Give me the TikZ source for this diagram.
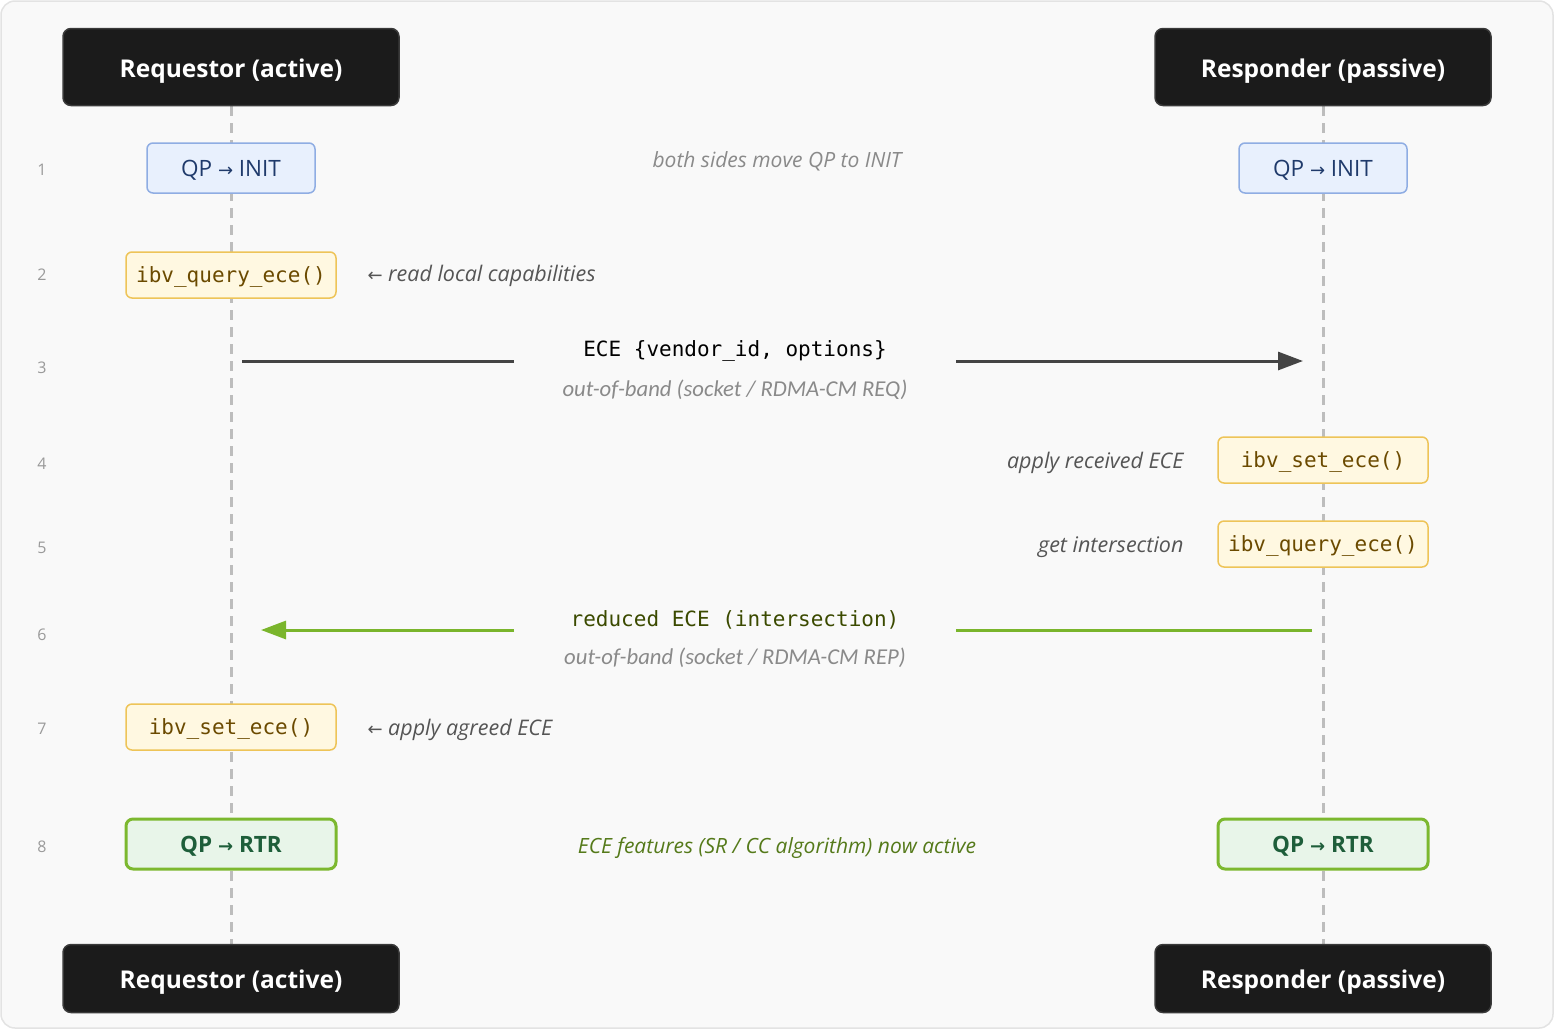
\documentclass[tikz,border=0pt]{standalone}
\usepackage{fontspec}
\setmainfont{Open Sans}
\setmonofont{DejaVu Sans Mono}
\newfontfamily\arrowfont{DejaVu Sans}
\newfontfamily\condfont{Carlito}
\usetikzlibrary{arrows.meta,backgrounds}
\definecolor{bg}{HTML}{F9F9F9}
\definecolor{frame}{HTML}{E3E3E3}
\definecolor{headfill}{HTML}{1B1B1B}
\definecolor{headdraw}{HTML}{3A3A3A}
\definecolor{life}{HTML}{BDBDBD}
\definecolor{initfill}{HTML}{E8F0FD}
\definecolor{initdraw}{HTML}{8FADE3}
\definecolor{inittext}{HTML}{1F3A6B}
\definecolor{funcfill}{HTML}{FFF8E1}
\definecolor{funcdraw}{HTML}{EEC458}
\definecolor{functext}{HTML}{6B4A00}
\definecolor{rtrfill}{HTML}{E8F5E9}
\definecolor{rtrdraw}{HTML}{7CB82F}
\definecolor{rtrtext}{HTML}{1E5E3A}
\definecolor{msgdark}{HTML}{444444}
\definecolor{msggreen}{HTML}{7AB52C}
\definecolor{lbl}{HTML}{555555}
\definecolor{note}{HTML}{8A8A8A}
\definecolor{greennote}{HTML}{557A1A}
\definecolor{greenlbl}{HTML}{3B4A00}
\definecolor{rownum}{HTML}{9A9A9A}
\newcommand{\rarr}{{\arrowfont\fontsize{18}{18}\selectfont →}}
\newcommand{\larr}{{\arrowfont\fontsize{18}{18}\selectfont ←}}
\tikzset{
  head/.style={draw=headdraw, line width=1.5pt, fill=headfill, rounded corners=8pt,
    minimum width=336pt, text=white, text height=20pt, text depth=0pt,
    font=\fontsize{24.5}{28}\selectfont\bfseries},
  initbox/.style={draw=initdraw, line width=1.5pt, fill=initfill, rounded corners=6pt,
    minimum width=168pt, minimum height=50pt, text=inittext, text height=16pt, text depth=0pt,
    font=\fontsize{22.5}{26}\selectfont},
  funcbox/.style={draw=funcdraw, line width=1.5pt, fill=funcfill, rounded corners=6pt,
    minimum width=210pt, minimum height=46pt, text=functext, text height=14pt, text depth=0pt,
    font=\ttfamily\fontsize{21}{24}\selectfont},
  rtrbox/.style={draw=rtrdraw, line width=3pt, fill=rtrfill, rounded corners=7pt,
    minimum width=210pt, minimum height=50pt, text=rtrtext, text height=16pt, text depth=0pt,
    font=\fontsize{22.5}{26}\selectfont\bfseries},
  rownum/.style={text=rownum, font=\fontsize{16}{18}\selectfont},
  sidelbl/.style={text=lbl, font=\fontsize{21.5}{25}\selectfont\itshape},
  notelbl/.style={text=note, font=\fontsize{21}{25}\selectfont\itshape},
  msglbl/.style={font=\ttfamily\fontsize{21}{24}\selectfont},
  bandlbl/.style={text=note, font=\condfont\fontsize{22.7}{26}\selectfont\itshape},
  lifeline/.style={draw=life, line width=3pt, dash pattern=on 10pt off 7pt},
  msgline/.style={draw=msgdark, line width=3pt},
  msggreenline/.style={draw=msggreen, line width=3pt},
}
\begin{document}
\begin{tikzpicture}[x=1pt,y=-1pt]
\useasboundingbox (0,0) rectangle (1554,1029);
% headers
\node[head, minimum height=77pt] (hl) at (231,67) {Requestor (active)};
\node[head, minimum height=77pt] (hr) at (1323,67) {Responder (passive)};
\node[head, minimum height=68pt] (bl) at (231,978.5) {Requestor (active)};
\node[head, minimum height=68pt] (br) at (1323,978.5) {Responder (passive)};
% row numbers
\node[rownum] (n1) at (42,170) {1};
\node[rownum] (n2) at (42,275) {2};
\node[rownum] (n3) at (42,368) {3};
\node[rownum] (n4) at (42,464) {4};
\node[rownum] (n5) at (42,548) {5};
\node[rownum] (n6) at (42,635) {6};
\node[rownum] (n7) at (42,729) {7};
\node[rownum] (n8) at (42,847) {8};
% row 1
\node[initbox] (initl) at (231,168) {QP \rarr{} INIT};
\node[initbox] (initr) at (1323,168) {QP \rarr{} INIT};
\node[notelbl] (note1) at (777,161) {both sides move QP to INIT};
% row 2
\node[funcbox] (qryl) at (231,275) {ibv\_query\_ece()};
\node[sidelbl, anchor=west] (lbl2) at (364,276) {\larr{} read local capabilities};
% row 3
\node[msglbl] (m3) at (735,351) {ECE \{vendor\_id, options\}};
\node[bandlbl] (b3) at (735,390) {out-of-band (socket / RDMA-CM REQ)};
\coordinate (a3s) at (242,361);
\coordinate (a3g1) at (514,361);
\coordinate (a3g2) at (956,361);
\coordinate (a3e) at (1303,361);
\draw[msgline] (a3s) -- (a3g1);
\draw[msgline, -{Triangle[length=25pt,width=18pt]}] (a3g2) -- (a3e);
% row 4
\node[funcbox] (setr) at (1323,460) {ibv\_set\_ece()};
\node[sidelbl, anchor=east] (lbl4) at (1187,463) {apply received ECE};
% row 5
\node[funcbox] (qryr) at (1323,544) {ibv\_query\_ece()};
\node[sidelbl, anchor=east] (lbl5) at (1187,547) {get intersection};
% row 6
\node[msglbl, text=greenlbl] (m6) at (735,620) {reduced ECE (intersection)};
\node[bandlbl] (b6) at (735,658) {out-of-band (socket / RDMA-CM REP)};
\coordinate (a6s) at (1312,630);
\coordinate (a6g1) at (956,630);
\coordinate (a6g2) at (514,630);
\coordinate (a6e) at (261,630);
\draw[msggreenline] (a6s) -- (a6g1);
\draw[msggreenline, -{Triangle[length=25pt,width=18pt]}] (a6g2) -- (a6e);
% row 7
\node[funcbox] (setl) at (231,727) {ibv\_set\_ece()};
\node[sidelbl, anchor=west] (lbl7) at (364,730) {\larr{} apply agreed ECE};
% row 8
\node[rtrbox] (rtrl) at (231,844) {QP \rarr{} RTR};
\node[rtrbox] (rtrr) at (1323,844) {QP \rarr{} RTR};
\node[notelbl, text=greennote] (note8) at (777,848) {ECE features (SR / CC algorithm) now active};
\begin{scope}[on background layer]
\draw[frame, fill=bg, line width=1.5pt, rounded corners=14pt] (1,1) rectangle (1553,1028);
\draw[lifeline] (hl.south) -- (bl.north);
\draw[lifeline] (hr.south) -- (br.north);
\end{scope}
\end{tikzpicture}
\end{document}
